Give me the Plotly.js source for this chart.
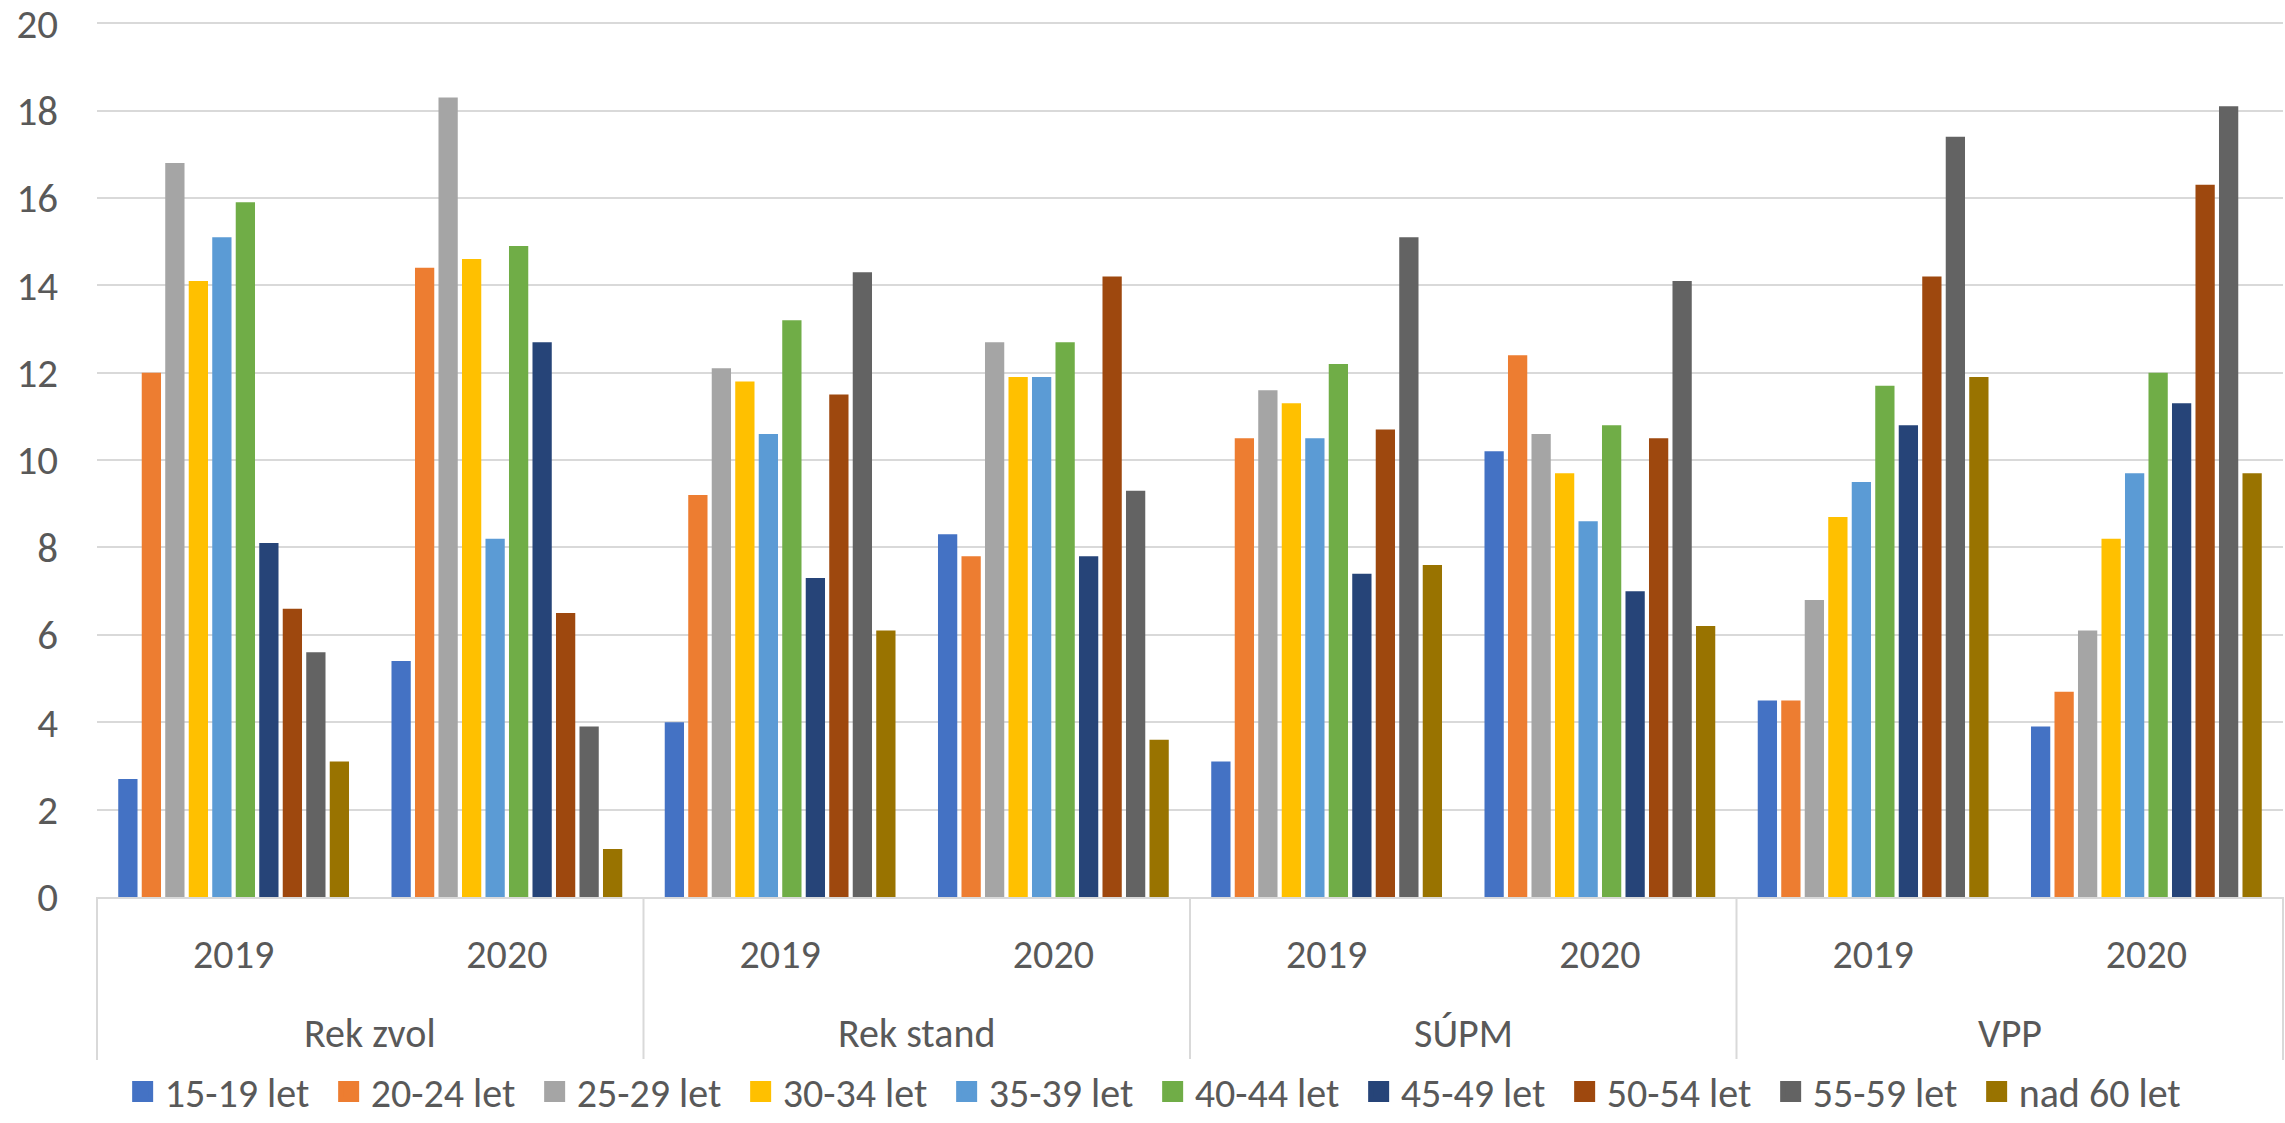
<!DOCTYPE html>
<html>
<head>
<meta charset="utf-8">
<script src="https://cdn.plot.ly/plotly-3.0.1.min.js"></script>
<style>html,body{margin:0;padding:0;background:#fff;}#chart{width:2285px;height:1123px;}</style>
</head>
<body>
<div id="chart"></div>
<script>
const groups = ["Rek zvol", "Rek zvol", "Rek stand", "Rek stand", "SÚPM", "SÚPM", "VPP", "VPP"];
const years = ["2019", "2020", "2019", "2020", "2019", "2020", "2019", "2020"];
const seriesNames = ["15-19 let", "20-24 let", "25-29 let", "30-34 let", "35-39 let", "40-44 let", "45-49 let", "50-54 let", "55-59 let", "nad 60 let"];
const colors = ["#4472C4", "#ED7D31", "#A5A5A5", "#FFC000", "#5B9BD5", "#70AD47", "#264478", "#9E480E", "#636363", "#997300"];

const v15_19 = [2.7, 5.4, 4.0, 8.3, 3.1, 10.2, 4.5, 3.9];
const v20_24 = [12.0, 14.4, 9.2, 7.8, 10.5, 12.4, 4.5, 4.7];
const v25_29 = [16.8, 18.3, 12.1, 12.7, 11.6, 10.6, 6.8, 6.1];
const v30_34 = [14.1, 14.6, 11.8, 11.9, 11.3, 9.7, 8.7, 8.2];
const v35_39 = [15.1, 8.2, 10.6, 11.9, 10.5, 8.6, 9.5, 9.7];
const v40_44 = [15.9, 14.9, 13.2, 12.7, 12.2, 10.8, 11.7, 12.0];
const v45_49 = [8.1, 12.7, 7.3, 7.8, 7.4, 7.0, 10.8, 11.3];
const v50_54 = [6.6, 6.5, 11.5, 14.2, 10.7, 10.5, 14.2, 16.3];
const v55_59 = [5.6, 3.9, 14.3, 9.3, 15.1, 14.1, 17.4, 18.1];
const vNad60 = [3.1, 1.1, 6.1, 3.6, 7.6, 6.2, 11.9, 9.7];

const yTicks = [0, 2, 4, 6, 8, 10, 12, 14, 16, 18, 20];

const allValues = [v15_19, v20_24, v25_29, v30_34, v35_39, v40_44, v45_49, v50_54, v55_59, vNad60];
const FONT = "Carlito, Calibri, 'Liberation Sans Narrow', 'Open Sans', sans-serif";
const TXT = "#595959";
const GRID = "#d9d9d9";

// unique category keys (group + year), labelled by year only
const catKeys = groups.map((g, i) => g + " " + years[i]);
const uniqueGroups = groups.filter((g, i) => groups.indexOf(g) === i);

const barTraces = seriesNames.map((name, i) => ({
  type: "bar",
  name: name,
  legendgroup: name,
  showlegend: false,
  x: catKeys,
  y: allValues[i],
  marker: {color: colors[i], line: {width: 0}},
  hoverinfo: "y+name"
}));

// legend entries (square swatches), no visible marks
const legendTraces = seriesNames.map((name, i) => ({
  type: "scatter",
  mode: "markers",
  name: name,
  legendgroup: name,
  showlegend: true,
  x: [null],
  y: [null],
  marker: {symbol: "square", size: 16, color: colors[i], line: {color: colors[i], width: 5}},
  hoverinfo: "skip"
}));

const plotTop = 21, plotBottom = 897;
const plotH = plotBottom - plotTop;
function paperY(px) { return (plotBottom - px) / plotH; }

// group labels centred under each pair of years
const annotations = uniqueGroups.map(g => {
  const idx = groups.map((gg, i) => gg === g ? i : -1).filter(i => i >= 0);
  const center = (idx[0] + idx[idx.length - 1]) / 2;
  return {
    text: g,
    xref: "x",
    x: center,
    yref: "paper",
    y: paperY(1033),
    yanchor: "middle",
    xanchor: "center",
    showarrow: false,
    font: {family: FONT, size: 40, color: TXT}
  };
});

// dividers between groups (incl. both edges)
const nGroups = uniqueGroups.length;
const shapes = [];
for (let k = 0; k <= nGroups; k++) {
  shapes.push({
    type: "line",
    xref: "paper",
    x0: k / nGroups,
    x1: k / nGroups,
    yref: "paper",
    y0: 0,
    y1: paperY(1060),
    line: {color: GRID, width: 2}
  });
}

const layout = {
  width: 2285,
  height: 1123,
  margin: {l: 97, r: 2, t: plotTop, b: 1123 - plotBottom, autoexpand: false},
  paper_bgcolor: "#ffffff",
  plot_bgcolor: "#ffffff",
  barmode: "group",
  bargap: 0.14,
  bargroupgap: 0.18,
  font: {family: FONT, size: 40, color: TXT},
  yaxis: {
    range: [0, 20.05],
    tickvals: yTicks,
    ticktext: yTicks.map(String),
    showgrid: true,
    gridcolor: GRID,
    gridwidth: 2,
    zeroline: false,
    showline: false,
    ticks: "",
    ticklabelstandoff: 38,
    ticklabeloverflow: "allow",
    tickfont: {family: FONT, size: 41, color: TXT}
  },
  xaxis: {
    type: "category",
    categoryorder: "array",
    categoryarray: catKeys,
    tickvals: catKeys,
    ticktext: years,
    range: [-0.5, catKeys.length - 0.5],
    showline: true,
    linecolor: GRID,
    linewidth: 2,
    showgrid: false,
    zeroline: false,
    ticks: "",
    ticklabelstandoff: 21,
    tickfont: {family: FONT, size: 40, color: TXT}
  },
  annotations: annotations,
  shapes: shapes,
  showlegend: true,
  legend: {
    orientation: "h",
    x: 0.482,
    xanchor: "center",
    y: paperY(1124),
    yanchor: "bottom",
    font: {family: FONT, size: 40, color: TXT},
    itemwidth: 34,
    entrywidth: 157,
    entrywidthmode: "pixels",
    tracegroupgap: 0,
    traceorder: "normal"
  }
};

Plotly.newPlot("chart", barTraces.concat(legendTraces), layout, {displayModeBar: false, staticPlot: true});
</script>
</body>
</html>
